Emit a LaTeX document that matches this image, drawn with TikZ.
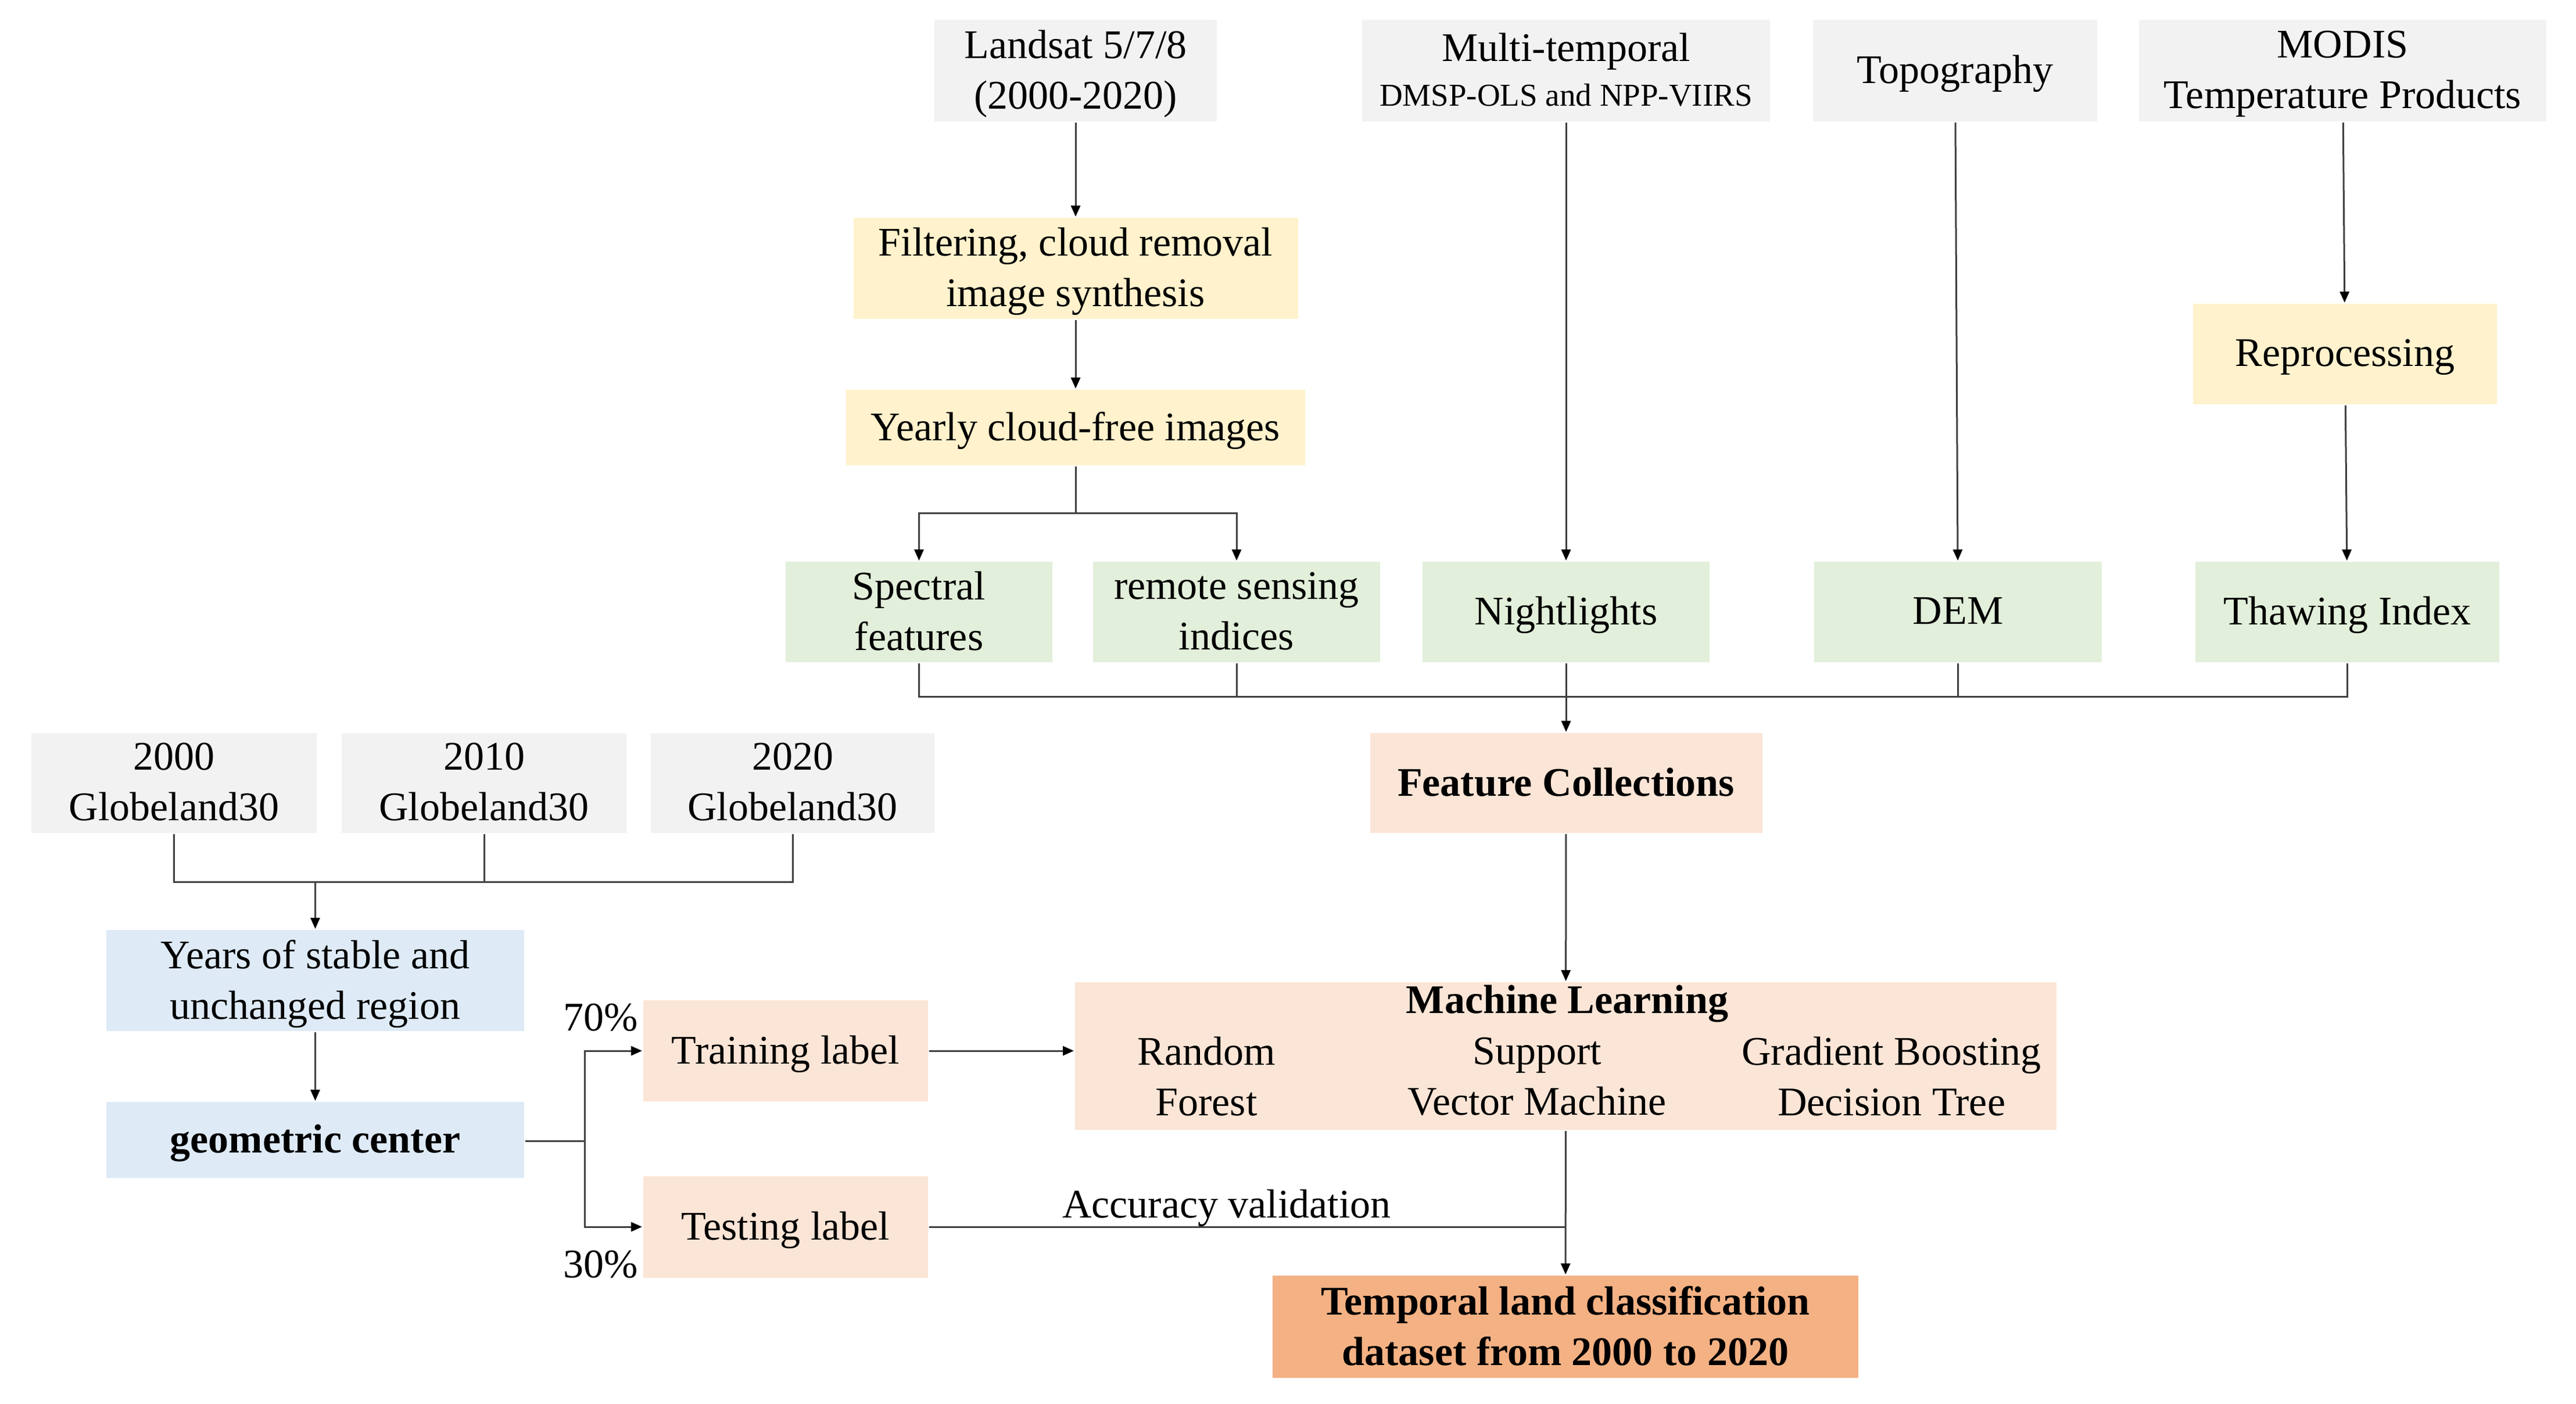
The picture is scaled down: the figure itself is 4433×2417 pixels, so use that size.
\documentclass[tikz,border=0pt]{standalone}
\usepackage{fontspec}
\setmainfont{Liberation Serif}
\usetikzlibrary{arrows.meta}
\definecolor{cgray}{HTML}{F2F2F2}
\definecolor{cyellow}{HTML}{FFF2CC}
\definecolor{cgreen}{HTML}{E2EFDA}
\definecolor{csalmon}{HTML}{FBE5D6}
\definecolor{cblue}{HTML}{DEEBF7}
\definecolor{corange}{HTML}{F4B183}
\definecolor{cline}{HTML}{404040}
\begin{document}
\begin{tikzpicture}[x=0.1pt,y=-0.1pt,
  box/.style={inner sep=0pt, align=center, font=\fontsize{7}{8.7}\selectfont, text=black, text depth=0.4pt},
  sz/.style 2 args={minimum width=#1*0.1pt, minimum height=#2*0.1pt},
  graybox/.style={box, fill=cgray},
  yelbox/.style={box, fill=cyellow},
  grnbox/.style={box, fill=cgreen},
  salbox/.style={box, fill=csalmon},
  blubox/.style={box, fill=cblue},
  orabox/.style={box, fill=corange},
  lbl/.style={inner sep=0pt, align=center, font=\fontsize{7}{8.7}\selectfont},
  conn/.style={draw=cline, line width=0.3pt},
  arr/.style={conn, -{Triangle[length=1.9pt,width=1.6pt,color=black]}}
]
\useasboundingbox[fill=white] (0,0) rectangle (4433,2417);

% top sources
\node[graybox, sz={486}{175}] (landsat) at (1851,121.5) {Landsat 5/7/8\\(2000-2020)};
\node[graybox, sz={702}{175}] (multi) at (2695,121.5) {Multi-temporal\\[-1pt]{\fontsize{5.5}{7}\selectfont DMSP-OLS and NPP-VIIRS}};
\node[graybox, sz={489}{175}] (topo) at (3364.5,121.5) {Topography};
\node[graybox, sz={701}{175}] (modis) at (4031.5,121.5) {MODIS\\Temperature Products};

% processing
\node[yelbox, sz={765}{174}] (filter) at (1851,462) {Filtering, cloud removal\\image synthesis};
\node[yelbox, sz={790}{130}] (yearly) at (1851,736) {Yearly cloud-free images};
\node[yelbox, sz={523}{173}] (repro) at (4035.5,609.5) {Reprocessing};

% features
\node[grnbox, sz={459}{173}] (spec) at (1581.5,1053.5) {Spectral\\features};
\node[grnbox, sz={494}{173}] (remote) at (2128,1053.5) {remote sensing\\indices};
\node[grnbox, sz={494}{173}] (night) at (2695,1053.5) {Nightlights};
\node[grnbox, sz={495}{173}] (dem) at (3369.5,1053.5) {DEM};
\node[grnbox, sz={523}{173}] (thaw) at (4039.5,1053.5) {Thawing Index};

\node[salbox, sz={675}{172}, font=\fontsize{7}{8.7}\selectfont\bfseries] (feat) at (2695,1348) {Feature Collections};

% globeland
\node[graybox, sz={491}{172}] (ga) at (299.5,1348) {2000\\Globeland30};
\node[graybox, sz={490}{172}] (gb) at (833,1348) {2010\\Globeland30};
\node[graybox, sz={488}{172}] (gc) at (1364,1348) {2020\\Globeland30};

\node[blubox, sz={719}{174}] (years) at (542.5,1688) {Years of stable and\\unchanged region};
\node[blubox, sz={719}{131}, font=\fontsize{7}{8.7}\selectfont\bfseries] (geo) at (542.5,1962.5) {geometric center};

\node[salbox, sz={490}{174}] (train) at (1352,1809) {Training label};
\node[salbox, sz={490}{175}] (test) at (1352,2112) {Testing label};

\node[salbox, sz={1689}{254}] (ml) at (2694.5,1818) {};
\node[lbl, font=\fontsize{7}{8.7}\selectfont\bfseries] (mlt) at (2697,1728) {Machine Learning};
\node[lbl] (rf) at (2076,1853) {Random\\Forest};
\node[lbl] (svm) at (2645,1853) {Support\\Vector Machine};
\node[lbl] (gbdt) at (3255,1853) {Gradient Boosting\\Decision Tree};

\node[orabox, sz={1008}{176}, font=\fontsize{7}{8.7}\selectfont\bfseries] (temp) at (2694,2284) {Temporal land classification\\dataset from 2000 to 2020};

% labels
\node[lbl] (p70) at (1034,1752) {70\%};
\node[lbl] (p30) at (1034,2177) {30\%};
\node[lbl] (acc) at (2111,2080) {Accuracy validation};

% connectors: top
\draw[arr] (landsat) -- (filter);
\draw[arr] (filter) -- (yearly);
\coordinate (split) at (1851,884);
\draw[conn] (yearly.south) -- (split);
\draw[arr] (split) -| (spec);
\draw[arr] (split) -| (remote);
\draw[arr] (multi) -- (night);
\draw[arr] (topo) -- (dem);
\draw[arr] (modis) -- (repro);
\draw[arr] (repro) -- (thaw);

% collection bus
\coordinate (bus) at (0,1200);
\draw[conn] (spec.south) -- (spec.south |- bus) -- (thaw.south |- bus) -- (thaw.south);
\draw[conn] (remote.south) -- (remote.south |- bus);
\draw[conn] (dem.south) -- (dem.south |- bus);
\draw[arr] (night) -- (feat);
\draw[arr] (feat) -- (ml);

% globeland bus
\coordinate (gbus) at (0,1518);
\draw[conn] (ga.south) -- (ga.south |- gbus) -- (gc.south |- gbus) -- (gc.south);
\draw[conn] (gb.south) -- (gb.south |- gbus);
\draw[arr] (years.north |- gbus) -- (years);
\draw[arr] (years) -- (geo);

% branch
\coordinate (br) at (1006,1964);
\draw[conn] (geo.east |- br) -- (br);
\draw[arr] (br) |- (train);
\draw[arr] (br) |- (test);
\draw[arr] (train) -- (train -| ml.west);

% validation and output
\draw[conn] (test.east) -- (test.east -| temp.north);
\draw[arr] (ml) -- (temp);
\end{tikzpicture}
\end{document}
